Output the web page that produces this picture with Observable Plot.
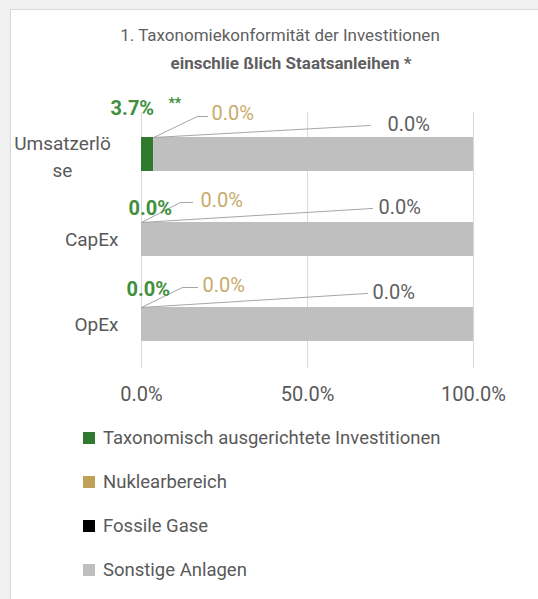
<!DOCTYPE html>
<html><head><meta charset="utf-8">
<script src="https://cdn.jsdelivr.net/npm/d3@7"></script>
<script src="https://cdn.jsdelivr.net/npm/@observablehq/plot@0.6"></script>
<style>
html,body{margin:0;padding:0;}
body{background:#f0f0f0;font-family:Roboto,"Liberation Sans",sans-serif;color:#595959;width:538px;height:599px;overflow:hidden;position:relative;}
#panel{position:absolute;left:10px;top:9px;width:528px;height:590px;background:#fff;border-left:1px solid #d9d9d9;border-top:1px solid #d9d9d9;}
#title{position:absolute;left:10px;width:540px;top:21px;text-align:center;font-size:17px;line-height:28px;color:#5f5f5f;}
#title .l2{font-weight:bold;padding-left:22px;}
#chart{position:absolute;left:0;top:80px;}
#legend{position:absolute;left:83px;top:416px;}
#legend .item{height:44px;display:flex;align-items:center;font-size:18.5px;color:#595959;}
#legend .sw{width:12px;height:12px;margin-right:8px;flex:none;}
</style></head><body>
<div id="panel"></div>
<div id="title"><div>1. Taxonomiekonformität der Investitionen</div><div class="l2">einschlie ßlich Staatsanleihen *</div></div>
<div id="chart"></div>
<div id="legend"></div>
<script>
// ---- data ----
const categories = ["Umsatzerlöse", "CapEx", "OpEx"];
const categoryLabels = ["Umsatzerlö\nse", "CapEx", "OpEx"];
const seriesNames = ["Taxonomisch ausgerichtete Investitionen", "Nuklearbereich", "Fossile Gase", "Sonstige Anlagen"];
const taxonomyAligned = [3.7, 0, 0];
const nuclear = [0, 0, 0];
const fossilGas = [0, 0, 0];
const other = [96.3, 100, 100];
const xTicks = [0, 50, 100];
const footnoteMark = "**";

// ---- styles / layout ----
const seriesColors = ["#2f7a2e", "#bfa157", "#000000", "#bfbfbf"];
const GREEN_TEXT = "#3f8f3c";
const GOLD_TEXT = "#c8ab6b";
const GRAY_TEXT = "#5f5f5f";
const BAR_HALF = 0.2;
// label layout in data units (x: percent, y: offset from row)
const goldLeader = [[16.8, -0.447, 19.9], [11.7, -0.435, 15.4], [12.3, -0.435, 16.9]];
const goldText = [[21.1, -0.482], [17.8, -0.459], [18.4, -0.459]];
const grayLeader = [[68.9, -0.341], [69.6, -0.365], [68.1, -0.365]];
const grayText = [[74.1, -0.353], [71.4, -0.376], [69.6, -0.376]];
const greenText = [[-9.3, -0.541], [-3.9, -0.365], [-4.5, -0.405]];
const footnotePos = [8.1, -0.6];

const fmt = v => v.toFixed(1) + "%";
const seriesValues = [taxonomyAligned, nuclear, fossilGas, other];

const segments = [];
categories.forEach((c, i) => {
  let acc = 0;
  seriesNames.forEach((s, k) => {
    const v = seriesValues[k][i];
    segments.push({category: c, row: i, series: s, x1: acc, x2: acc + v});
    acc += v;
  });
});

const labels = categories.map((c, i) => ({
  row: i, anchor: taxonomyAligned[i],
  green: fmt(taxonomyAligned[i]), gold: fmt(nuclear[i]), gray: fmt(fossilGas[i])
}));

const leaders = [];
labels.forEach((d, i) => {
  const top = i - BAR_HALF;
  leaders.push({id: "g" + i, x: d.anchor, y: top},
               {id: "g" + i, x: goldLeader[i][0], y: i + goldLeader[i][1]},
               {id: "g" + i, x: goldLeader[i][2], y: i + goldLeader[i][1]});
  leaders.push({id: "f" + i, x: d.anchor, y: top},
               {id: "f" + i, x: grayLeader[i][0], y: i + grayLeader[i][1]});
});

const chart = Plot.plot({
  width: 538, height: 330,
  marginLeft: 141, marginRight: 65, marginTop: 32, marginBottom: 42,
  style: {fontFamily: "Roboto, sans-serif", color: "#595959", background: "transparent", overflow: "visible"},
  x: {domain: [0, 100], label: null},
  y: {domain: [-0.494, 2.518], reverse: true, label: null},
  color: {domain: seriesNames, range: seriesColors},
  marks: [
    Plot.gridX(xTicks, {stroke: "#d9d9d9", strokeOpacity: 1}),
    Plot.rectX(segments, {x1: "x1", x2: "x2", y1: d => d.row - BAR_HALF, y2: d => d.row + BAR_HALF, fill: "series"}),
    Plot.line(leaders, {x: "x", y: "y", z: "id", stroke: "#a6a6a6", strokeWidth: 1}),
    Plot.text(labels, {x: (d, i) => greenText[i][0], y: (d, i) => d.row + greenText[i][1], text: "green",
      textAnchor: "start", fill: GREEN_TEXT, fontSize: 20, fontWeight: "bold"}),
    Plot.text([footnoteMark], {x: () => footnotePos[0], y: () => labels[0].row + footnotePos[1], text: d => d,
      textAnchor: "start", fill: GREEN_TEXT, fontSize: 14, fontWeight: "bold"}),
    Plot.text(labels, {x: (d, i) => goldText[i][0], y: (d, i) => d.row + goldText[i][1], text: "gold",
      textAnchor: "start", fill: GOLD_TEXT, fontSize: 20}),
    Plot.text(labels, {x: (d, i) => grayText[i][0], y: (d, i) => d.row + grayText[i][1], text: "gray",
      textAnchor: "start", fill: GRAY_TEXT, fontSize: 20}),
    Plot.axisX({ticks: xTicks, tickFormat: fmt, tickSize: 0, tickPadding: 18, fontSize: 20, label: null}),
    Plot.axisY({ticks: [1, 2], tickFormat: i => categoryLabels[i], tickSize: 0, tickPadding: 23, fontSize: 19, label: null}),
    Plot.axisY({ticks: [0], tickFormat: i => categoryLabels[i], tickSize: 0, tickPadding: 79, textAnchor: "middle",
      fontSize: 19, lineHeight: 1.42, label: null})
  ]
});
document.getElementById("chart").appendChild(chart);

const legend = d3.select("#legend");
seriesNames.forEach((s, k) => {
  const item = legend.append("div").attr("class", "item");
  item.append("span").attr("class", "sw").style("background", seriesColors[k]);
  item.append("span").text(s);
});
</script>
</body></html>
